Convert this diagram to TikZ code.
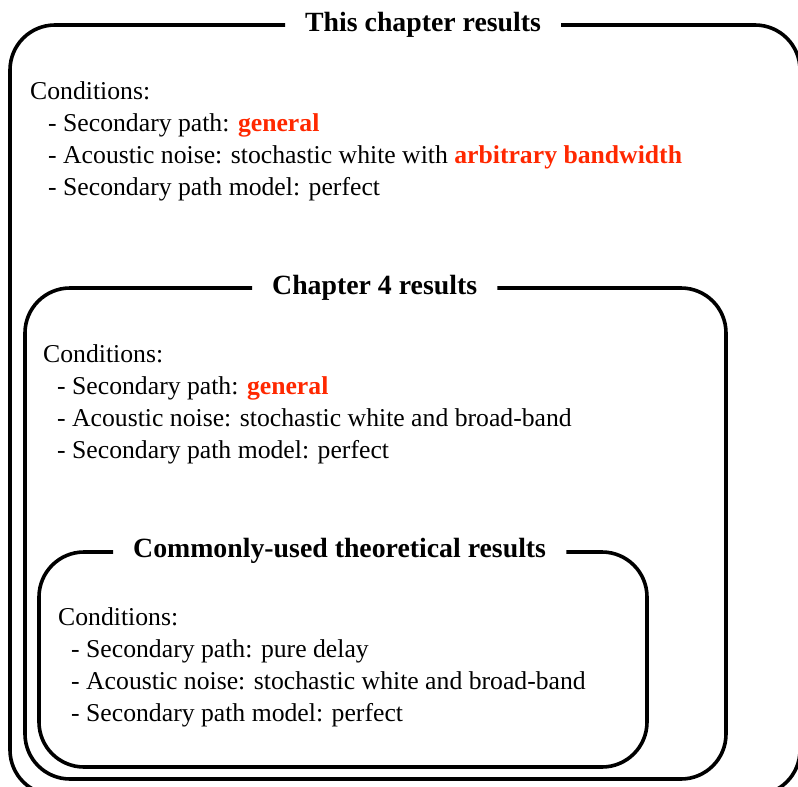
\documentclass[tikz,border=0pt]{standalone}
\usepackage{fontspec}
\setmainfont{Liberation Serif}
\definecolor{hot}{RGB}{255,40,0}
\begin{document}
\begin{tikzpicture}[x=1pt,y=-1pt,
  frame/.style={line width=3.6pt, rounded corners=45pt},
  ttl/.style={anchor=base west, inner xsep=20pt, inner ysep=0pt, font=\fontsize{27.8}{33}\selectfont\bfseries},
  txt/.style={anchor=base west, inner sep=0pt, font=\fontsize{25.7}{32}\selectfont}]
\clip (0,0) rectangle (798,787);
\useasboundingbox (0,0) rectangle (798,787);
% ---------- outer box ----------
\coordinate (y1) at (0,25);
\node[ttl] (t1) at (285,31) {This chapter results};
\draw[frame] (t1.west |- y1) -- (10,25) -- (10,795) -- (800,795) -- (800,25) -- (t1.east |- y1);
\node[txt] (a0) at (30,99) {Conditions:};
\node[txt] (a1) at (48,131) {- Secondary path: \textbf{\color{hot}general}};
\node[txt] (a2) at (48,163) {- Acoustic noise: stochastic white with \textbf{\color{hot}arbitrary bandwidth}};
\node[txt] (a3) at (48,195) {- Secondary path model: perfect};
% ---------- middle box ----------
\coordinate (y2) at (0,288);
\node[ttl] (t2) at (252,294) {Chapter 4 results};
\draw[frame] (t2.west |- y2) -- (25,288) -- (25,779) -- (726,779) -- (726,288) -- (t2.east |- y2);
\node[txt] (b0) at (43,362) {Conditions:};
\node[txt] (b1) at (57,394) {- Secondary path: \textbf{\color{hot}general}};
\node[txt] (b2) at (57,426) {- Acoustic noise: stochastic white and broad-band};
\node[txt] (b3) at (57,458) {- Secondary path model: perfect};
% ---------- inner box ----------
\coordinate (y3) at (0,552);
\node[ttl] (t3) at (113,557) {Commonly-used theoretical results};
\draw[frame] (t3.west |- y3) -- (39,552) -- (39,767) -- (647,767) -- (647,552) -- (t3.east |- y3);
\node[txt] (c0) at (58,625) {Conditions:};
\node[txt] (c1) at (71,657) {- Secondary path: pure delay};
\node[txt] (c2) at (71,689) {- Acoustic noise: stochastic white and broad-band};
\node[txt] (c3) at (71,721) {- Secondary path model: perfect};
\end{tikzpicture}
\end{document}
